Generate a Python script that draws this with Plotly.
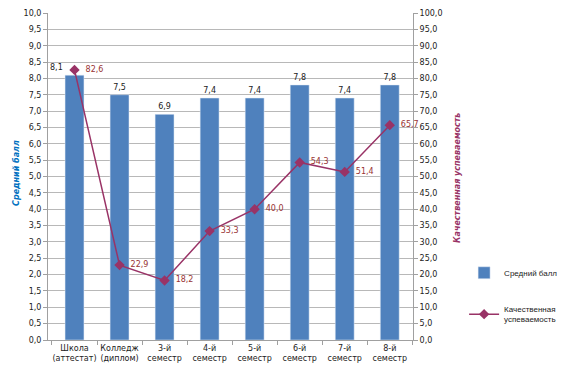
import plotly.graph_objects as go

categories = ["Школа<br>(аттестат)", "Колледж<br>(диплом)", "3-й<br>семестр", "4-й<br>семестр",
              "5-й<br>семестр", "6-й<br>семестр", "7-й<br>семестр", "8-й<br>семестр"]
avg_score = [8.1, 7.5, 6.9, 7.4, 7.4, 7.8, 7.4, 7.8]
quality = [82.6, 22.9, 18.2, 33.3, 40.0, 54.3, 51.4, 65.7]

bar_color = "#4F81BD"
line_color = "#993366"
lbl_color = "#993333"
font = "DejaVu Sans"
lfont = "Liberation Sans"

def fmt(v):
    return f"{v:.1f}".replace(".", ",")

fig = go.Figure()
bar_text = [""] + [fmt(v) for v in avg_score[1:]]
fig.add_trace(go.Bar(
    x=categories, y=avg_score, name="Средний балл",
    marker=dict(color=bar_color), width=0.42,
    text=bar_text, textposition="outside", cliponaxis=False,
    textfont=dict(size=8, color="#222222", family=font),
    legendgroup="a",
))
fig.add_trace(go.Scatter(
    x=categories, y=quality, name="Качественная<br>успеваемость", yaxis="y2",
    mode="lines+markers+text", line=dict(color=line_color, width=1.5),
    marker=dict(symbol="diamond", size=8, color=line_color),
    text=["  " + fmt(v) for v in quality], textposition="middle right",
    textfont=dict(size=8, color=lbl_color, family=font),
    cliponaxis=False, legendgroup="b",
))
# first bar label shifted left of marker
fig.add_annotation(x=categories[0], y=avg_score[0], text=fmt(avg_score[0]), xref="x", yref="y",
                   showarrow=False, xshift=-18, yshift=8,
                   font=dict(size=8, color="#222222", family=font))
fig.add_annotation(x=-0.105, y=0.51, xref="paper", yref="paper", text="<b><i>Средний балл</i></b>",
                   textangle=-90, showarrow=False, font=dict(size=8, color="#0070C0", family=font))
fig.add_annotation(x=1.138, y=0.495, xref="paper", yref="paper",
                   text="<b><i>Качественная успеваемость</i></b>",
                   textangle=-90, showarrow=False, font=dict(size=8, color=line_color, family=font))

fig.update_layout(
    width=559, height=370,
    margin=dict(l=40, r=154, t=5, b=38, autoexpand=False),
    paper_bgcolor="white", plot_bgcolor="white",
    separators=", ",
    font=dict(family=font, size=8, color="#222222"),
    xaxis=dict(showline=True, linecolor="#A0A0A0", ticks="outside", tickson="boundaries",
               tickcolor="#A0A0A0", ticklen=4, tickangle=0, tickfont=dict(size=8)),
    yaxis=dict(range=[0, 10], dtick=0.5, tickformat=".1f", showgrid=True, gridcolor="#B8B8B8",
               showline=True, linecolor="#A0A0A0", ticks="outside", tickcolor="#A0A0A0", ticklen=4,
               zeroline=False, tickfont=dict(size=8), ticklabeloverflow="allow"),
    yaxis2=dict(range=[0, 100], dtick=5, tickformat=".1f", overlaying="y", side="right",
                showgrid=False, showline=True, linecolor="#A0A0A0", ticks="outside",
                tickcolor="#A0A0A0", ticklen=4, zeroline=False, tickfont=dict(size=8),
                ticklabeloverflow="allow"),
    legend=dict(x=1.14, y=0.25, xanchor="left", yanchor="top", tracegroupgap=20, itemwidth=30,
                font=dict(size=8, family=lfont), bgcolor="rgba(0,0,0,0)"),
    showlegend=True,
)

fig.write_html("out.html")
